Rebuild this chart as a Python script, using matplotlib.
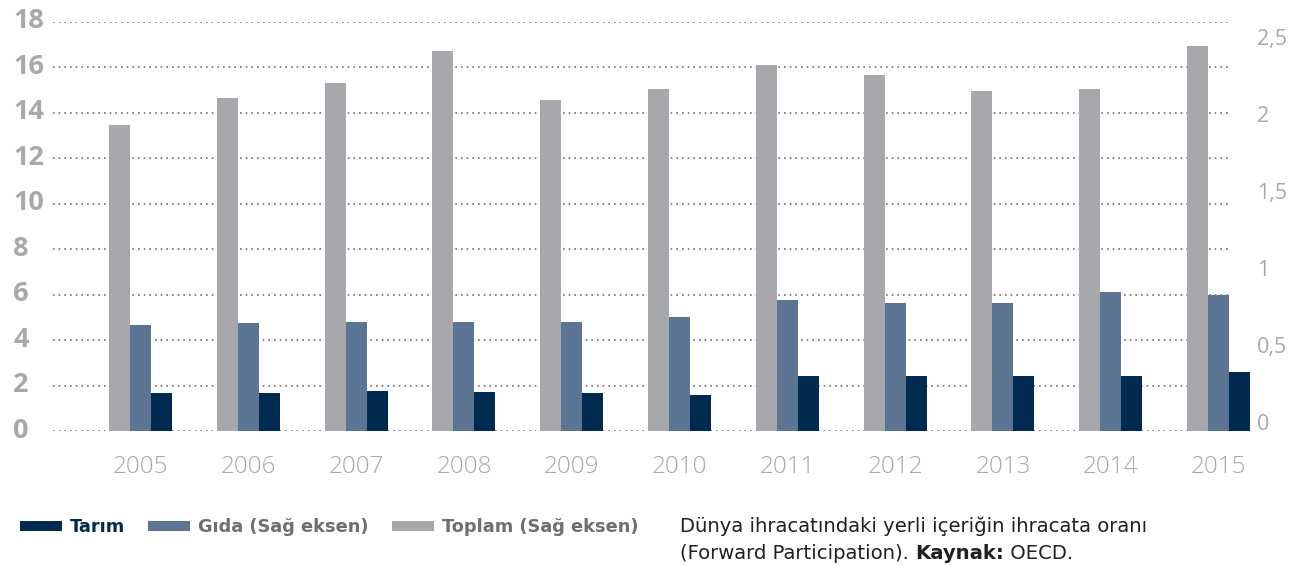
import numpy as np
import matplotlib
matplotlib.use("Agg")
import matplotlib.pyplot as plt
import matplotlib.transforms as mtransforms

# data
years = ["2005", "2006", "2007", "2008", "2009", "2010",
         "2011", "2012", "2013", "2014", "2015"]
tarim = [1.65, 1.65, 1.75, 1.7, 1.65, 1.6, 2.4, 2.4, 2.4, 2.4, 2.6]          # left axis
gida = [0.69, 0.70, 0.71, 0.71, 0.71, 0.74, 0.85, 0.83, 0.83, 0.90, 0.88]    # right axis
toplam = [1.99, 2.16, 2.26, 2.47, 2.15, 2.22, 2.38, 2.31, 2.21, 2.22, 2.50]  # right axis

left_ticks = [0, 2, 4, 6, 8, 10, 12, 14, 16, 18]
right_ticks = [0, 0.5, 1, 1.5, 2, 2.5]
right_labels = ["0", "0,5", "1", "1,5", "2", "2,5"]

NAVY = "#002a50"
BLUE = "#5d7594"
GREY = "#a7a8ac"
LABEL = "#a7a8ac"

plt.rcParams["font.family"] = ["Open Sans", "DejaVu Sans"]
WIDE = ["DejaVu Sans"]

fig = plt.figure(figsize=(13.16, 5.66), dpi=100)
ax = fig.add_axes([53 / 1316, 135 / 566, 1176 / 1316, 409.3 / 566])
ax2 = ax.twinx()

x = np.arange(len(years))
w = 0.195

b_top = ax2.bar(x - w, toplam, w, color=GREY, label="Toplam (Sağ eksen)", zorder=3)
b_gida = ax2.bar(x, gida, w, color=BLUE, label="Gıda (Sağ eksen)", zorder=3)
b_tarim = ax.bar(x + w, tarim, w, color=NAVY, label="Tarım", zorder=3)
for bars in (b_top, b_gida, b_tarim):
    for p in bars:
        p.set_clip_on(False)

ax.set_xlim(-0.812, 10.097)
ax.set_ylim(0, 18)
ax2.set_ylim(0, 2.658)

# dotted grid on left scale
ax.set_yticks(left_ticks)
ax.yaxis.grid(True, linestyle=(0, (1, 2.4)), color="#707070", linewidth=1.2)
ax.set_axisbelow(True)

for a in (ax, ax2):
    for s in a.spines.values():
        s.set_visible(False)

ax.set_xticks(x)
ax.set_xticklabels(years)
ax.tick_params(axis="x", length=0, pad=17, labelsize=17.5, labelcolor=LABEL)
for t in ax.get_xticklabels():
    t.set_fontweight("light")

ax.tick_params(axis="y", length=0, pad=28.8, labelsize=19.5, labelcolor=LABEL)
for t in ax.get_yticklabels():
    t.set_horizontalalignment("left")
    t.set_fontweight("bold")
    t.set_transform(t.get_transform() + mtransforms.ScaledTranslation(0, 2.5 / 72, fig.dpi_scale_trans))

ax2.set_yticks(right_ticks)
ax2.set_yticklabels(right_labels)
ax2.tick_params(axis="y", length=0, pad=20, labelsize=15.5, labelcolor=LABEL)
for t in ax2.get_yticklabels():
    t.set_transform(t.get_transform() + mtransforms.ScaledTranslation(0, 6.5 / 72, fig.dpi_scale_trans))

# legend
leg = fig.legend(handles=[b_tarim, b_gida, b_top], loc="center left",
                 bbox_to_anchor=(20 / 1316, 1 - 527.5 / 566), ncol=3, frameon=False,
                 prop={"family": WIDE, "size": 12.8, "weight": "bold"},
                 handlelength=2.36, handleheight=0.5, handletextpad=0.45,
                 columnspacing=1.3, borderpad=0, borderaxespad=0)
for txt, col in zip(leg.get_texts(), [NAVY, "#6d6e71", "#6d6e71"]):
    txt.set_color(col)

# caption
cap_col = "#231f20"
fig.text(680 / 1316, 1 - 532 / 566, "Dünya ihracatındaki yerli içeriğin ihracata oranı",
         fontsize=14.1, family=WIDE, color=cap_col, va="baseline")
t1 = fig.text(680 / 1316, 1 - 559 / 566, "(Forward Participation). ",
              fontsize=14.1, family=WIDE, color=cap_col, va="baseline")
t2 = ax.annotate("Kaynak:", xy=(1, 0), xycoords=t1, va="bottom", ha="left",
                 fontsize=14.1, family=WIDE, color=cap_col, fontweight="bold",
                 annotation_clip=False)
t3 = ax.annotate(" OECD.", xy=(1, 0), xycoords=t2, va="bottom", ha="left",
                 fontsize=14.1, family=WIDE, color=cap_col, annotation_clip=False)

fig.savefig("out.png", dpi=100)
